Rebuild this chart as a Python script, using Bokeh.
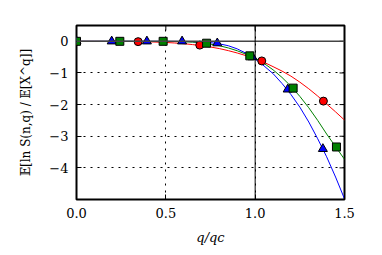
import math
from bokeh.plotting import figure
from bokeh.models import Range1d, Span, FixedTicker
from bokeh.embed import file_html
from bokeh.resources import INLINE

# --- data ---
curve_x = [0.0, 0.1, 0.2, 0.3, 0.4, 0.5, 0.55, 0.6, 0.65, 0.7, 0.75, 0.8, 0.85, 0.9, 0.95,
           1.0, 1.05, 1.1, 1.15, 1.2, 1.25, 1.3, 1.35, 1.4, 1.45, 1.5]
red_curve = [0.0, 0.0, -0.001, -0.005, -0.015, -0.036, -0.053, -0.075, -0.104, -0.14, -0.18,
             -0.23, -0.295, -0.37, -0.455, -0.55, -0.665, -0.80, -0.94, -1.10, -1.29, -1.50,
             -1.73, -1.98, -2.23, -2.49]
green_curve = [0.0, 0.0, 0.0, 0.0, -0.001, -0.004, -0.007, -0.014, -0.027, -0.05, -0.088,
               -0.14, -0.21, -0.30, -0.41, -0.53, -0.70, -0.90, -1.14, -1.42, -1.74, -2.10,
               -2.50, -2.93, -3.33, -3.73]
blue_curve = [0.0, 0.0, 0.0, 0.0, 0.0, -0.001, -0.002, -0.005, -0.01, -0.02, -0.042, -0.08,
              -0.14, -0.24, -0.38, -0.56, -0.78, -1.02, -1.33, -1.68, -2.08, -2.55, -3.08,
              -3.65, -4.29, -4.98]

red_x = [0.0, 0.345, 0.69, 1.037, 1.382]
red_y = [0.0, -0.01, -0.12, -0.62, -1.89]
green_x = [0.0, 0.2425, 0.485, 0.728, 0.97, 1.2125, 1.455]
green_y = [0.0, 0.0, 0.0, -0.06, -0.46, -1.48, -3.34]
blue_x = [0.0, 0.197, 0.394, 0.591, 0.788, 0.985, 1.182, 1.379]
blue_y = [0.0, 0.0, 0.0, 0.0, -0.06, -0.50, -1.52, -3.40]

x_ticks = [0.0, 0.5, 1.0, 1.5]
x_tick_labels = ["0.0", "0.5", "1.0", "1.5"]
y_ticks = [-4, -3, -2, -1, 0]
y_tick_labels = ["\u22124", "\u22123", "\u22122", "\u22121", "0"]

X_MIN, X_MAX = 0.0, 1.5
Y_MIN, Y_MAX = -5.0, 0.5

FONT = "DejaVu Serif"

p = figure(width=376, height=247, output_backend="svg", toolbar_location=None,
           x_range=Range1d(X_MIN, X_MAX), y_range=Range1d(Y_MIN, Y_MAX),
           min_border_left=76, min_border_right=32, min_border_top=25, min_border_bottom=43,
           x_axis_label="q/qc", y_axis_label="\U0001D53C[ln S(n,q) / \U0001D53C[X^q]]")
p.background_fill_color = "white"
p.border_fill_color = "white"
p.outline_line_color = "black"
p.outline_line_width = 2

for ax, ticks, labels in ((p.xaxis[0], x_ticks, x_tick_labels), (p.yaxis[0], y_ticks, y_tick_labels)):
    ax.ticker = FixedTicker(ticks=ticks)
    ax.major_label_overrides = {t: l for t, l in zip(ticks, labels)}
    ax.axis_line_color = None
    ax.major_tick_in = 5
    ax.major_tick_out = 0
    ax.major_tick_line_color = "black"
    ax.minor_tick_line_color = None
    ax.major_label_text_font = FONT
    ax.major_label_text_font_size = "13px"
    ax.major_label_text_color = "black"
    ax.axis_label_text_font = FONT
    ax.axis_label_text_font_size = "13px"
    ax.axis_label_text_color = "black"

p.xaxis[0].axis_label_text_font_style = "italic"
p.yaxis[0].axis_label_text_font_style = "normal"
p.yaxis[0].axis_label_text_font_size = "12px"
p.xaxis[0].major_label_standoff = 8
p.xaxis[0].axis_label_standoff = 9
p.yaxis[0].major_label_standoff = 8
p.yaxis[0].axis_label_standoff = 13

for g, ticks in ((p.xgrid[0], x_ticks), (p.ygrid[0], y_ticks)):
    g.ticker = FixedTicker(ticks=ticks)
    g.grid_line_color = "black"
    g.grid_line_dash = "2 5"
    g.grid_line_width = 1

# ticks on the top and right frame edges (half of each dash is clipped by the frame)
p.scatter(x_ticks, [Y_MAX] * len(x_ticks), marker="dash", size=10, angle=math.pi / 2,
          line_color="black", line_width=1)
p.scatter([X_MAX] * len(y_ticks), y_ticks, marker="dash", size=10,
          line_color="black", line_width=1)

p.add_layout(Span(location=0, dimension="width", line_color="#444444", line_width=1.5))
p.add_layout(Span(location=1.0, dimension="height", line_color="black", line_width=1))

p.line(curve_x, red_curve, line_color="#ff0000", line_width=1)
p.line(curve_x, green_curve, line_color="#008000", line_width=1)
p.line(curve_x, blue_curve, line_color="#0000ff", line_width=1)

p.scatter(red_x, red_y, marker="circle", size=8, fill_color="#ff0000", line_color="black", line_width=1)
p.scatter(blue_x, blue_y, marker="triangle", size=9, fill_color="#0000ff", line_color="black", line_width=1)
p.scatter(green_x, green_y, marker="square", size=8, fill_color="#008000", line_color="black", line_width=1)

open("out.html", "w").write(file_html(p, INLINE))
